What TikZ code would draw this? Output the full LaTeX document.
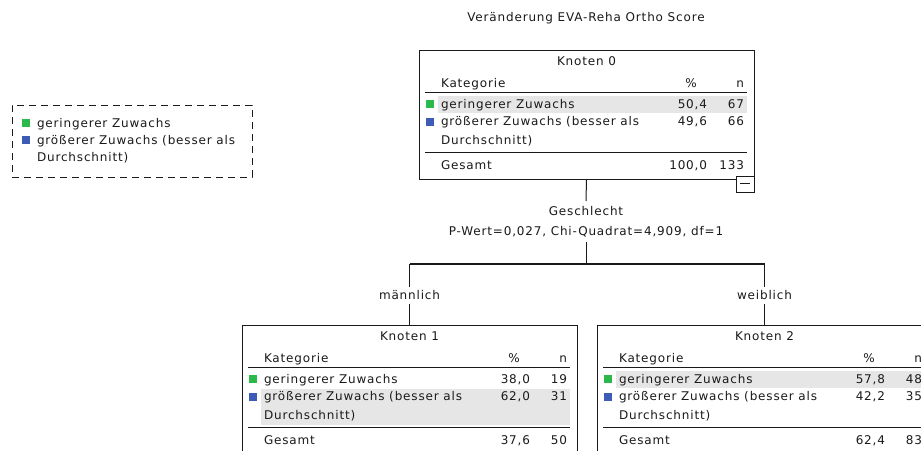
\documentclass[tikz,border=0pt]{standalone}
\usepackage{fontspec}
\setmainfont{DejaVu Sans}[LetterSpace=7]
\definecolor{ink}{HTML}{1A1A1A}
\definecolor{gcat}{HTML}{2DB84B}
\definecolor{bcat}{HTML}{3D5CB8}
\definecolor{bandc}{HTML}{E6E6E6}
\newcommand{\txtfont}{\fontsize{12}{14}\selectfont}
\tikzset{
  every node/.style={inner sep=0pt, outer sep=0pt, font=\txtfont, text=ink},
  treebox/.style={draw=ink, line width=1pt, minimum width=335pt, minimum height=129pt, anchor=north west},
  lbl/.style={text height=9pt, text depth=3pt},
  lw/.style={lbl, anchor=west},
  le/.style={lbl, anchor=east},
  conn/.style={draw=ink, line width=1pt},
  rule/.style={draw=ink, line width=1pt},
  sqg/.style={fill=gcat, minimum width=8pt, minimum height=8pt, anchor=north west},
  sqb/.style={fill=bcat, minimum width=8pt, minimum height=8pt, anchor=north west},
  band/.style={fill=bandc},
}
% #1 name, #2 x, #3 y, #4 title, #5 shaded row, #6 p1, #7 n1, #8 p2, #9 n2
\newcommand{\TreeNode}[9]{%
  \begin{scope}[shift={(#2,#3)}]
    \ifnum#5=1 \fill[band] (19,46) rectangle (328,63);\else \fill[band] (19,64) rectangle (328,100);\fi
    \node[treebox] (#1) at (0,0) {};
    \node[lbl] (#1-title) at (167.5,12) {#4};
    \node[lw] (#1-kat) at (22,34) {Kategorie};
    \node[lbl] (#1-pct) at (272,34) {\%};
    \node[le] (#1-n) at (325,34) {n};
    \draw[rule] (6,42) -- (328,42);
    \node[sqg] (#1-sq1) at (7,50) {};
    \node[lw] (#1-r1) at (22,55) {geringerer Zuwachs};
    \node[le] (#1-p1) at (288,55) {#6};
    \node[le] (#1-n1) at (325,55) {#7};
    \node[sqb] (#1-sq2) at (7,68) {};
    \node[lw] (#1-r2) at (22,72) {größerer Zuwachs (besser als};
    \node[lw] (#1-r2b) at (22,91) {Durchschnitt)};
    \node[le] (#1-p2) at (288,72) {#8};
    \node[le] (#1-n2) at (325,72) {#9};
    \draw[rule] (6,102) -- (328,102);
    \node[lw] (#1-ges) at (22,116) {Gesamt};
  \end{scope}}
\newcommand{\TreeTotal}[3]{%
  \path (#1.north west) ++(288,116) node[le] (#1-pt) {#2};
  \path (#1.north west) ++(325,116) node[le] (#1-nt) {#3};}
\begin{document}
\begin{tikzpicture}[x=1pt,y=-1pt]
\path[use as bounding box] (0,0) rectangle (921,450);
\clip (0,0) rectangle (921,450);
\fill[white] (0,0) rectangle (921,450);

% title
\node[lbl] (title) at (586,18) {Veränderung EVA-Reha Ortho Score};

% legend
\node[draw=ink, line width=1pt, dash pattern=on 7pt off 5pt, minimum width=240pt, minimum height=72pt, anchor=north west] (legend) at (12,105) {};
\node[sqg] (leg-g) at (22,119) {};
\node[lw] (leg-t1) at (37,124) {geringerer Zuwachs};
\node[sqb] (leg-b) at (22,136) {};
\node[lw] (leg-t2) at (37,141) {größerer Zuwachs (besser als};
\node[lw] (leg-t3) at (37,158) {Durchschnitt)};

% tree nodes
\TreeNode{n0}{419}{50}{Knoten 0}{1}{50,4}{67}{49,6}{66}
\TreeTotal{n0}{100,0}{133}
\TreeNode{n1}{242}{325}{Knoten 1}{2}{38,0}{19}{62,0}{31}
\TreeTotal{n1}{37,6}{50}
\TreeNode{n2}{597}{325}{Knoten 2}{1}{57,8}{48}{42,2}{35}
\TreeTotal{n2}{62,4}{83}

% collapse box
\node[draw=ink, fill=white, line width=1pt, minimum width=18pt, minimum height=16pt, anchor=north east] (n0-c) at (754,176) {};
\draw[ink, line width=1pt] (n0-c.west) ++(4,-1) -- ++(10,0);

% split labels
\node[lbl] (split) at (586,212) {Geschlecht};
\node[lbl] (stat) at (586,232) {P-Wert=0,027, Chi-Quadrat=4,909, df=1};
\node[lbl] (lab1) at (409.5,296) {männlich};
\node[lbl] (lab2) at (764.5,296) {weiblich};
\coordinate (bar) at (586,264);
\coordinate (barL) at (409.5,264);
\coordinate (barR) at (764.5,264);

% connectors
\draw[conn] (n0.south) -- ([yshift=5pt]split.north);
\draw[conn] ([yshift=-4pt]stat.south) -- (bar);
\draw[conn, line width=1.3pt] (barL) -- (barR);
\draw[conn] (barL) -- ([yshift=3pt]lab1.north);
\draw[conn] (barR) -- ([yshift=3pt]lab2.north);
\draw[conn] ([yshift=-2pt]lab1.south) -- (n1.north);
\draw[conn] ([yshift=-2pt]lab2.south) -- (n2.north);
\end{tikzpicture}
\end{document}
